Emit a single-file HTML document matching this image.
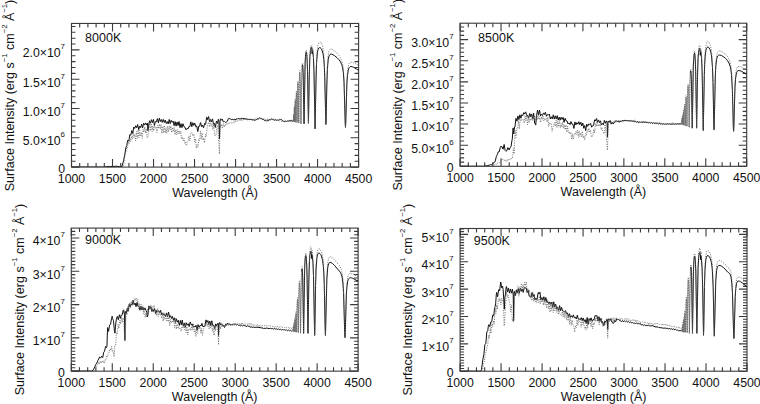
<!DOCTYPE html><html><head><meta charset="utf-8"><style>html,body{margin:0;padding:0;background:#fff;width:760px;height:404px;overflow:hidden;position:relative}</style></head><body><svg width="760" height="404" viewBox="0 0 760 404" style="position:absolute;left:0;top:0">
<g font-family='"Liberation Sans", sans-serif' font-size="12.3" fill="#111">
<rect x="71.5" y="23.45" width="287.10" height="143.65" fill="none" stroke="#3a3a3a" stroke-width="1.1"/>
<path d="M71.50 167.1v-8M71.50 23.45v8M79.70 167.1v-4M79.70 23.45v4M87.91 167.1v-4M87.91 23.45v4M96.11 167.1v-4M96.11 23.45v4M104.31 167.1v-4M104.31 23.45v4M112.51 167.1v-8M112.51 23.45v8M120.72 167.1v-4M120.72 23.45v4M128.92 167.1v-4M128.92 23.45v4M137.12 167.1v-4M137.12 23.45v4M145.33 167.1v-4M145.33 23.45v4M153.53 167.1v-8M153.53 23.45v8M161.73 167.1v-4M161.73 23.45v4M169.93 167.1v-4M169.93 23.45v4M178.14 167.1v-4M178.14 23.45v4M186.34 167.1v-4M186.34 23.45v4M194.54 167.1v-8M194.54 23.45v8M202.75 167.1v-4M202.75 23.45v4M210.95 167.1v-4M210.95 23.45v4M219.15 167.1v-4M219.15 23.45v4M227.35 167.1v-4M227.35 23.45v4M235.56 167.1v-8M235.56 23.45v8M243.76 167.1v-4M243.76 23.45v4M251.96 167.1v-4M251.96 23.45v4M260.17 167.1v-4M260.17 23.45v4M268.37 167.1v-4M268.37 23.45v4M276.57 167.1v-8M276.57 23.45v8M284.77 167.1v-4M284.77 23.45v4M292.98 167.1v-4M292.98 23.45v4M301.18 167.1v-4M301.18 23.45v4M309.38 167.1v-4M309.38 23.45v4M317.59 167.1v-8M317.59 23.45v8M325.79 167.1v-4M325.79 23.45v4M333.99 167.1v-4M333.99 23.45v4M342.19 167.1v-4M342.19 23.45v4M350.40 167.1v-4M350.40 23.45v4M358.60 167.1v-8M358.60 23.45v8M71.5 167.10h8M358.6 167.10h-8M71.5 161.24h4M358.6 161.24h-4M71.5 155.38h4M358.6 155.38h-4M71.5 149.52h4M358.6 149.52h-4M71.5 143.66h4M358.6 143.66h-4M71.5 137.80h8M358.6 137.80h-8M71.5 131.94h4M358.6 131.94h-4M71.5 126.08h4M358.6 126.08h-4M71.5 120.22h4M358.6 120.22h-4M71.5 114.36h4M358.6 114.36h-4M71.5 108.50h8M358.6 108.50h-8M71.5 102.64h4M358.6 102.64h-4M71.5 96.78h4M358.6 96.78h-4M71.5 90.92h4M358.6 90.92h-4M71.5 85.06h4M358.6 85.06h-4M71.5 79.20h8M358.6 79.20h-8M71.5 73.34h4M358.6 73.34h-4M71.5 67.48h4M358.6 67.48h-4M71.5 61.62h4M358.6 61.62h-4M71.5 55.76h4M358.6 55.76h-4M71.5 49.90h8M358.6 49.90h-8M71.5 44.04h4M358.6 44.04h-4M71.5 38.18h4M358.6 38.18h-4M71.5 32.32h4M358.6 32.32h-4M71.5 26.46h4M358.6 26.46h-4" stroke="#3a3a3a" stroke-width="1.1" fill="none"/>
<text x="71.50" y="183.20" text-anchor="middle">1000</text>
<text x="112.51" y="183.20" text-anchor="middle">1500</text>
<text x="153.53" y="183.20" text-anchor="middle">2000</text>
<text x="194.54" y="183.20" text-anchor="middle">2500</text>
<text x="235.56" y="183.20" text-anchor="middle">3000</text>
<text x="276.57" y="183.20" text-anchor="middle">3500</text>
<text x="317.59" y="183.20" text-anchor="middle">4000</text>
<text x="358.60" y="183.20" text-anchor="middle">4500</text>
<text x="65.00" y="172.80" text-anchor="end">0</text>
<text x="65.00" y="145.20" text-anchor="end">5.0×10<tspan font-size="7.9" dy="-8.0">6</tspan></text>
<text x="65.00" y="115.90" text-anchor="end">1.0×10<tspan font-size="7.9" dy="-8.0">7</tspan></text>
<text x="65.00" y="86.60" text-anchor="end">1.5×10<tspan font-size="7.9" dy="-8.0">7</tspan></text>
<text x="65.00" y="57.30" text-anchor="end">2.0×10<tspan font-size="7.9" dy="-8.0">7</tspan></text>
<text x="215.05" y="197.10" text-anchor="middle" font-size="12.5">Wavelength (Å)</text>
<text transform="translate(14.00,191.30) rotate(-90)" font-size="12.55">Surface Intensity (erg s<tspan font-size="7.7" dy="-7">−1</tspan><tspan dy="7"> cm</tspan><tspan font-size="7.7" dy="-7">−2</tspan><tspan dy="7"> Å</tspan><tspan font-size="7.7" dy="-7">−1</tspan><tspan dy="7">)</tspan></text>
<text x="85.1" y="42.2" font-size="12.5">8000K</text>
<rect x="460.1" y="23.2" width="286.60" height="143.10" fill="none" stroke="#3a3a3a" stroke-width="1.1"/>
<path d="M460.10 166.3v-8M460.10 23.2v8M468.29 166.3v-4M468.29 23.2v4M476.48 166.3v-4M476.48 23.2v4M484.67 166.3v-4M484.67 23.2v4M492.85 166.3v-4M492.85 23.2v4M501.04 166.3v-8M501.04 23.2v8M509.23 166.3v-4M509.23 23.2v4M517.42 166.3v-4M517.42 23.2v4M525.61 166.3v-4M525.61 23.2v4M533.80 166.3v-4M533.80 23.2v4M541.99 166.3v-8M541.99 23.2v8M550.17 166.3v-4M550.17 23.2v4M558.36 166.3v-4M558.36 23.2v4M566.55 166.3v-4M566.55 23.2v4M574.74 166.3v-4M574.74 23.2v4M582.93 166.3v-8M582.93 23.2v8M591.12 166.3v-4M591.12 23.2v4M599.31 166.3v-4M599.31 23.2v4M607.49 166.3v-4M607.49 23.2v4M615.68 166.3v-4M615.68 23.2v4M623.87 166.3v-8M623.87 23.2v8M632.06 166.3v-4M632.06 23.2v4M640.25 166.3v-4M640.25 23.2v4M648.44 166.3v-4M648.44 23.2v4M656.63 166.3v-4M656.63 23.2v4M664.81 166.3v-8M664.81 23.2v8M673.00 166.3v-4M673.00 23.2v4M681.19 166.3v-4M681.19 23.2v4M689.38 166.3v-4M689.38 23.2v4M697.57 166.3v-4M697.57 23.2v4M705.76 166.3v-8M705.76 23.2v8M713.95 166.3v-4M713.95 23.2v4M722.13 166.3v-4M722.13 23.2v4M730.32 166.3v-4M730.32 23.2v4M738.51 166.3v-4M738.51 23.2v4M746.70 166.3v-8M746.70 23.2v8M460.1 166.30h8M746.7 166.30h-8M460.1 162.08h4M746.7 162.08h-4M460.1 157.85h4M746.7 157.85h-4M460.1 153.63h4M746.7 153.63h-4M460.1 149.41h4M746.7 149.41h-4M460.1 145.19h8M746.7 145.19h-8M460.1 140.96h4M746.7 140.96h-4M460.1 136.74h4M746.7 136.74h-4M460.1 132.52h4M746.7 132.52h-4M460.1 128.29h4M746.7 128.29h-4M460.1 124.07h8M746.7 124.07h-8M460.1 119.85h4M746.7 119.85h-4M460.1 115.62h4M746.7 115.62h-4M460.1 111.40h4M746.7 111.40h-4M460.1 107.18h4M746.7 107.18h-4M460.1 102.96h8M746.7 102.96h-8M460.1 98.73h4M746.7 98.73h-4M460.1 94.51h4M746.7 94.51h-4M460.1 90.29h4M746.7 90.29h-4M460.1 86.06h4M746.7 86.06h-4M460.1 81.84h8M746.7 81.84h-8M460.1 77.62h4M746.7 77.62h-4M460.1 73.39h4M746.7 73.39h-4M460.1 69.17h4M746.7 69.17h-4M460.1 64.95h4M746.7 64.95h-4M460.1 60.73h8M746.7 60.73h-8M460.1 56.50h4M746.7 56.50h-4M460.1 52.28h4M746.7 52.28h-4M460.1 48.06h4M746.7 48.06h-4M460.1 43.83h4M746.7 43.83h-4M460.1 39.61h8M746.7 39.61h-8M460.1 35.39h4M746.7 35.39h-4M460.1 31.16h4M746.7 31.16h-4M460.1 26.94h4M746.7 26.94h-4" stroke="#3a3a3a" stroke-width="1.1" fill="none"/>
<text x="460.10" y="182.40" text-anchor="middle">1000</text>
<text x="501.04" y="182.40" text-anchor="middle">1500</text>
<text x="541.99" y="182.40" text-anchor="middle">2000</text>
<text x="582.93" y="182.40" text-anchor="middle">2500</text>
<text x="623.87" y="182.40" text-anchor="middle">3000</text>
<text x="664.81" y="182.40" text-anchor="middle">3500</text>
<text x="705.76" y="182.40" text-anchor="middle">4000</text>
<text x="746.70" y="182.40" text-anchor="middle">4500</text>
<text x="453.60" y="172.00" text-anchor="end">0</text>
<text x="453.60" y="152.59" text-anchor="end">5.0×10<tspan font-size="7.9" dy="-8.0">6</tspan></text>
<text x="453.60" y="131.47" text-anchor="end">1.0×10<tspan font-size="7.9" dy="-8.0">7</tspan></text>
<text x="453.60" y="110.36" text-anchor="end">1.5×10<tspan font-size="7.9" dy="-8.0">7</tspan></text>
<text x="453.60" y="89.24" text-anchor="end">2.0×10<tspan font-size="7.9" dy="-8.0">7</tspan></text>
<text x="453.60" y="68.13" text-anchor="end">2.5×10<tspan font-size="7.9" dy="-8.0">7</tspan></text>
<text x="453.60" y="47.01" text-anchor="end">3.0×10<tspan font-size="7.9" dy="-8.0">7</tspan></text>
<text x="603.40" y="196.30" text-anchor="middle" font-size="12.5">Wavelength (Å)</text>
<text transform="translate(402.30,190.50) rotate(-90)" font-size="12.55">Surface Intensity (erg s<tspan font-size="7.7" dy="-7">−1</tspan><tspan dy="7"> cm</tspan><tspan font-size="7.7" dy="-7">−2</tspan><tspan dy="7"> Å</tspan><tspan font-size="7.7" dy="-7">−1</tspan><tspan dy="7">)</tspan></text>
<text x="478.1" y="41.6" font-size="12.5">8500K</text>
<rect x="71.3" y="228.1" width="286.80" height="143.05" fill="none" stroke="#3a3a3a" stroke-width="1.1"/>
<path d="M71.30 371.15v-8M71.30 228.1v8M79.49 371.15v-4M79.49 228.1v4M87.69 371.15v-4M87.69 228.1v4M95.88 371.15v-4M95.88 228.1v4M104.08 371.15v-4M104.08 228.1v4M112.27 371.15v-8M112.27 228.1v8M120.47 371.15v-4M120.47 228.1v4M128.66 371.15v-4M128.66 228.1v4M136.85 371.15v-4M136.85 228.1v4M145.05 371.15v-4M145.05 228.1v4M153.24 371.15v-8M153.24 228.1v8M161.44 371.15v-4M161.44 228.1v4M169.63 371.15v-4M169.63 228.1v4M177.83 371.15v-4M177.83 228.1v4M186.02 371.15v-4M186.02 228.1v4M194.21 371.15v-8M194.21 228.1v8M202.41 371.15v-4M202.41 228.1v4M210.60 371.15v-4M210.60 228.1v4M218.80 371.15v-4M218.80 228.1v4M226.99 371.15v-4M226.99 228.1v4M235.19 371.15v-8M235.19 228.1v8M243.38 371.15v-4M243.38 228.1v4M251.57 371.15v-4M251.57 228.1v4M259.77 371.15v-4M259.77 228.1v4M267.96 371.15v-4M267.96 228.1v4M276.16 371.15v-8M276.16 228.1v8M284.35 371.15v-4M284.35 228.1v4M292.55 371.15v-4M292.55 228.1v4M300.74 371.15v-4M300.74 228.1v4M308.93 371.15v-4M308.93 228.1v4M317.13 371.15v-8M317.13 228.1v8M325.32 371.15v-4M325.32 228.1v4M333.52 371.15v-4M333.52 228.1v4M341.71 371.15v-4M341.71 228.1v4M349.91 371.15v-4M349.91 228.1v4M358.10 371.15v-8M358.10 228.1v8M71.3 371.15h8M358.1 371.15h-8M71.3 367.82h4M358.1 367.82h-4M71.3 364.50h4M358.1 364.50h-4M71.3 361.17h4M358.1 361.17h-4M71.3 357.84h4M358.1 357.84h-4M71.3 354.51h4M358.1 354.51h-4M71.3 351.19h4M358.1 351.19h-4M71.3 347.86h4M358.1 347.86h-4M71.3 344.53h4M358.1 344.53h-4M71.3 341.20h4M358.1 341.20h-4M71.3 337.88h8M358.1 337.88h-8M71.3 334.55h4M358.1 334.55h-4M71.3 331.22h4M358.1 331.22h-4M71.3 327.89h4M358.1 327.89h-4M71.3 324.56h4M358.1 324.56h-4M71.3 321.24h4M358.1 321.24h-4M71.3 317.91h4M358.1 317.91h-4M71.3 314.58h4M358.1 314.58h-4M71.3 311.25h4M358.1 311.25h-4M71.3 307.93h4M358.1 307.93h-4M71.3 304.60h8M358.1 304.60h-8M71.3 301.27h4M358.1 301.27h-4M71.3 297.94h4M358.1 297.94h-4M71.3 294.62h4M358.1 294.62h-4M71.3 291.29h4M358.1 291.29h-4M71.3 287.96h4M358.1 287.96h-4M71.3 284.63h4M358.1 284.63h-4M71.3 281.31h4M358.1 281.31h-4M71.3 277.98h4M358.1 277.98h-4M71.3 274.65h4M358.1 274.65h-4M71.3 271.32h8M358.1 271.32h-8M71.3 268.00h4M358.1 268.00h-4M71.3 264.67h4M358.1 264.67h-4M71.3 261.34h4M358.1 261.34h-4M71.3 258.01h4M358.1 258.01h-4M71.3 254.69h4M358.1 254.69h-4M71.3 251.36h4M358.1 251.36h-4M71.3 248.03h4M358.1 248.03h-4M71.3 244.70h4M358.1 244.70h-4M71.3 241.38h4M358.1 241.38h-4M71.3 238.05h8M358.1 238.05h-8M71.3 234.72h4M358.1 234.72h-4M71.3 231.39h4M358.1 231.39h-4" stroke="#3a3a3a" stroke-width="1.1" fill="none"/>
<text x="71.30" y="387.25" text-anchor="middle">1000</text>
<text x="112.27" y="387.25" text-anchor="middle">1500</text>
<text x="153.24" y="387.25" text-anchor="middle">2000</text>
<text x="194.21" y="387.25" text-anchor="middle">2500</text>
<text x="235.19" y="387.25" text-anchor="middle">3000</text>
<text x="276.16" y="387.25" text-anchor="middle">3500</text>
<text x="317.13" y="387.25" text-anchor="middle">4000</text>
<text x="358.10" y="387.25" text-anchor="middle">4500</text>
<text x="64.80" y="376.85" text-anchor="end">0</text>
<text x="64.80" y="345.27" text-anchor="end">1×10<tspan font-size="7.9" dy="-8.0">7</tspan></text>
<text x="64.80" y="312.00" text-anchor="end">2×10<tspan font-size="7.9" dy="-8.0">7</tspan></text>
<text x="64.80" y="278.72" text-anchor="end">3×10<tspan font-size="7.9" dy="-8.0">7</tspan></text>
<text x="64.80" y="245.45" text-anchor="end">4×10<tspan font-size="7.9" dy="-8.0">7</tspan></text>
<text x="214.70" y="401.15" text-anchor="middle" font-size="12.5">Wavelength (Å)</text>
<text transform="translate(23.70,395.35) rotate(-90)" font-size="12.55">Surface Intensity (erg s<tspan font-size="7.7" dy="-7">−1</tspan><tspan dy="7"> cm</tspan><tspan font-size="7.7" dy="-7">−2</tspan><tspan dy="7"> Å</tspan><tspan font-size="7.7" dy="-7">−1</tspan><tspan dy="7">)</tspan></text>
<text x="85.0" y="244.3" font-size="12.5">9000K</text>
<rect x="460.1" y="228.5" width="286.90" height="142.70" fill="none" stroke="#3a3a3a" stroke-width="1.1"/>
<path d="M460.10 371.2v-8M460.10 228.5v8M468.30 371.2v-4M468.30 228.5v4M476.49 371.2v-4M476.49 228.5v4M484.69 371.2v-4M484.69 228.5v4M492.89 371.2v-4M492.89 228.5v4M501.09 371.2v-8M501.09 228.5v8M509.28 371.2v-4M509.28 228.5v4M517.48 371.2v-4M517.48 228.5v4M525.68 371.2v-4M525.68 228.5v4M533.87 371.2v-4M533.87 228.5v4M542.07 371.2v-8M542.07 228.5v8M550.27 371.2v-4M550.27 228.5v4M558.47 371.2v-4M558.47 228.5v4M566.66 371.2v-4M566.66 228.5v4M574.86 371.2v-4M574.86 228.5v4M583.06 371.2v-8M583.06 228.5v8M591.25 371.2v-4M591.25 228.5v4M599.45 371.2v-4M599.45 228.5v4M607.65 371.2v-4M607.65 228.5v4M615.85 371.2v-4M615.85 228.5v4M624.04 371.2v-8M624.04 228.5v8M632.24 371.2v-4M632.24 228.5v4M640.44 371.2v-4M640.44 228.5v4M648.63 371.2v-4M648.63 228.5v4M656.83 371.2v-4M656.83 228.5v4M665.03 371.2v-8M665.03 228.5v8M673.23 371.2v-4M673.23 228.5v4M681.42 371.2v-4M681.42 228.5v4M689.62 371.2v-4M689.62 228.5v4M697.82 371.2v-4M697.82 228.5v4M706.01 371.2v-8M706.01 228.5v8M714.21 371.2v-4M714.21 228.5v4M722.41 371.2v-4M722.41 228.5v4M730.61 371.2v-4M730.61 228.5v4M738.80 371.2v-4M738.80 228.5v4M747.00 371.2v-8M747.00 228.5v8M460.1 371.20h8M747.0 371.20h-8M460.1 368.46h4M747.0 368.46h-4M460.1 365.73h4M747.0 365.73h-4M460.1 362.99h4M747.0 362.99h-4M460.1 360.26h4M747.0 360.26h-4M460.1 357.52h4M747.0 357.52h-4M460.1 354.78h4M747.0 354.78h-4M460.1 352.05h4M747.0 352.05h-4M460.1 349.31h4M747.0 349.31h-4M460.1 346.58h4M747.0 346.58h-4M460.1 343.84h8M747.0 343.84h-8M460.1 341.10h4M747.0 341.10h-4M460.1 338.37h4M747.0 338.37h-4M460.1 335.63h4M747.0 335.63h-4M460.1 332.90h4M747.0 332.90h-4M460.1 330.16h4M747.0 330.16h-4M460.1 327.42h4M747.0 327.42h-4M460.1 324.69h4M747.0 324.69h-4M460.1 321.95h4M747.0 321.95h-4M460.1 319.22h4M747.0 319.22h-4M460.1 316.48h8M747.0 316.48h-8M460.1 313.74h4M747.0 313.74h-4M460.1 311.01h4M747.0 311.01h-4M460.1 308.27h4M747.0 308.27h-4M460.1 305.54h4M747.0 305.54h-4M460.1 302.80h4M747.0 302.80h-4M460.1 300.06h4M747.0 300.06h-4M460.1 297.33h4M747.0 297.33h-4M460.1 294.59h4M747.0 294.59h-4M460.1 291.86h4M747.0 291.86h-4M460.1 289.12h8M747.0 289.12h-8M460.1 286.38h4M747.0 286.38h-4M460.1 283.65h4M747.0 283.65h-4M460.1 280.91h4M747.0 280.91h-4M460.1 278.18h4M747.0 278.18h-4M460.1 275.44h4M747.0 275.44h-4M460.1 272.70h4M747.0 272.70h-4M460.1 269.97h4M747.0 269.97h-4M460.1 267.23h4M747.0 267.23h-4M460.1 264.50h4M747.0 264.50h-4M460.1 261.76h8M747.0 261.76h-8M460.1 259.02h4M747.0 259.02h-4M460.1 256.29h4M747.0 256.29h-4M460.1 253.55h4M747.0 253.55h-4M460.1 250.82h4M747.0 250.82h-4M460.1 248.08h4M747.0 248.08h-4M460.1 245.34h4M747.0 245.34h-4M460.1 242.61h4M747.0 242.61h-4M460.1 239.87h4M747.0 239.87h-4M460.1 237.14h4M747.0 237.14h-4M460.1 234.40h8M747.0 234.40h-8M460.1 231.66h4M747.0 231.66h-4M460.1 228.93h4M747.0 228.93h-4" stroke="#3a3a3a" stroke-width="1.1" fill="none"/>
<text x="460.10" y="387.30" text-anchor="middle">1000</text>
<text x="501.09" y="387.30" text-anchor="middle">1500</text>
<text x="542.07" y="387.30" text-anchor="middle">2000</text>
<text x="583.06" y="387.30" text-anchor="middle">2500</text>
<text x="624.04" y="387.30" text-anchor="middle">3000</text>
<text x="665.03" y="387.30" text-anchor="middle">3500</text>
<text x="706.01" y="387.30" text-anchor="middle">4000</text>
<text x="747.00" y="387.30" text-anchor="middle">4500</text>
<text x="453.60" y="376.90" text-anchor="end">0</text>
<text x="453.60" y="351.24" text-anchor="end">1×10<tspan font-size="7.9" dy="-8.0">7</tspan></text>
<text x="453.60" y="323.88" text-anchor="end">2×10<tspan font-size="7.9" dy="-8.0">7</tspan></text>
<text x="453.60" y="296.52" text-anchor="end">3×10<tspan font-size="7.9" dy="-8.0">7</tspan></text>
<text x="453.60" y="269.16" text-anchor="end">4×10<tspan font-size="7.9" dy="-8.0">7</tspan></text>
<text x="453.60" y="241.80" text-anchor="end">5×10<tspan font-size="7.9" dy="-8.0">7</tspan></text>
<text x="603.55" y="401.20" text-anchor="middle" font-size="12.5">Wavelength (Å)</text>
<text transform="translate(412.40,395.40) rotate(-90)" font-size="12.55">Surface Intensity (erg s<tspan font-size="7.7" dy="-7">−1</tspan><tspan dy="7"> cm</tspan><tspan font-size="7.7" dy="-7">−2</tspan><tspan dy="7"> Å</tspan><tspan font-size="7.7" dy="-7">−1</tspan><tspan dy="7">)</tspan></text>
<text x="473.8" y="244.6" font-size="12.5">9500K</text>
</g>
<clipPath id="c0"><rect x="71.5" y="23.45" width="287.10" height="143.65"/></clipPath>
<polyline clip-path="url(#c0)" points="71.50,167.10 104.31,167.10 109.23,166.43 112.51,166.61 115.96,166.17 119.90,166.61 121.70,167.00 123.59,160.71 124.90,153.91 125.88,147.52 126.87,145.51 127.28,142.28 127.77,140.44 127.85,140.25 128.51,141.25 128.84,141.01 129.82,134.66 130.81,135.20 131.79,130.50 132.78,133.41 133.76,126.99 134.74,128.41 135.73,125.72 136.71,127.76 137.70,124.57 138.68,129.66 139.67,126.18 140.65,127.61 141.63,124.22 142.62,127.87 143.60,123.24 144.59,125.10 145.57,122.92 146.56,125.04 147.38,123.07 147.95,130.76 148.61,125.34 149.51,120.77 150.17,122.02 150.49,123.26 151.48,119.70 152.46,122.60 153.45,119.39 154.43,125.40 155.42,121.61 156.40,121.77 157.38,118.63 158.37,122.84 159.35,118.12 160.34,121.59 161.32,119.57 162.31,122.39 163.29,119.38 164.27,122.53 165.26,120.04 166.24,123.51 167.23,121.56 168.21,123.87 169.20,119.48 170.18,123.60 171.16,120.22 172.15,122.32 173.13,121.07 174.12,125.64 175.10,121.54 176.09,126.14 177.07,122.04 178.06,125.50 179.04,121.49 180.02,127.71 181.01,123.64 181.99,127.65 182.98,123.71 183.96,126.59 184.95,127.25 185.85,129.61 186.09,129.83 186.91,128.41 187.90,128.93 188.88,126.68 189.87,126.65 190.85,121.90 191.84,126.70 192.82,122.68 193.80,125.44 194.79,123.05 195.77,126.78 196.76,125.95 197.74,131.57 197.91,131.39 198.73,126.20 199.71,126.25 200.28,123.08 200.61,122.54 201.68,126.77 202.66,125.25 203.40,127.77 203.65,127.69 204.63,123.37 205.21,124.28 205.53,124.50 205.62,124.38 206.60,117.33 207.09,117.54 207.59,119.69 208.57,116.58 209.55,121.59 210.54,119.35 211.52,121.81 212.51,118.85 213.49,124.23 214.48,123.51 215.13,127.16 215.38,127.43 216.44,121.05 217.02,121.84 217.43,123.46 218.41,119.25 218.91,121.39 219.48,138.93 220.05,121.24 220.38,119.40 220.79,118.72 221.37,120.24 222.35,119.17 223.33,121.84 224.32,121.42 225.30,122.45 226.21,122.01 226.37,122.12 227.19,121.52 228.26,118.90 228.83,118.23 229.24,118.49 230.23,118.67 231.21,119.86 232.19,119.19 233.18,119.97 234.16,119.15 235.15,120.22 236.13,118.84 237.12,119.38 238.10,118.26 239.08,119.02 240.07,118.63 241.05,118.88 242.04,117.89 243.02,118.89 244.01,118.30 244.99,119.08 245.97,118.62 246.96,119.20 248.85,119.46 249.91,119.17 250.90,119.61 251.88,119.31 252.87,119.93 253.85,119.82 254.83,120.48 255.41,120.16 255.82,119.64 256.80,119.48 257.79,118.78 258.77,118.83 259.67,117.75 260.74,118.62 261.72,118.64 262.71,119.69 263.69,119.51 264.68,120.67 265.66,120.29 266.56,121.22 267.63,120.01 268.61,120.78 269.60,119.39 270.58,119.74 271.57,118.92 272.55,119.43 273.54,119.23 274.52,120.09 275.51,119.63 276.49,120.34 277.47,120.01 277.72,120.18 278.46,120.21 279.44,119.35 280.43,119.54 280.75,119.22 281.41,119.42 282.40,120.82 283.38,120.94 283.87,121.55 284.28,121.67 285.35,121.22 286.33,121.49 287.32,120.92 288.30,121.15 289.29,120.54 290.27,120.86 291.25,120.26 292.24,121.06 292.98,121.24" fill="none" stroke="#111" stroke-width="1.0" stroke-linejoin="round"/>
<polyline clip-path="url(#c0)" points="292.98,121.24 293.39,121.42 293.51,116.28 293.67,116.02 293.92,121.59 294.37,108.00 294.74,121.87 295.03,105.50 295.27,101.00 295.77,122.22 296.09,99.85 296.42,93.00 296.71,99.08 297.08,122.46 297.49,91.53 297.90,83.00 298.27,90.85 298.76,123.02 299.29,83.25 299.54,75.46 299.87,72.50 300.36,83.24 300.97,123.93 301.63,79.59 302.16,66.49" fill="none" stroke="#6a6a6a" stroke-width="0.6" stroke-linejoin="round"/>
<polyline clip-path="url(#c0)" points="302.16,66.49 302.41,65.06 302.57,65.09 302.70,65.61 303.15,72.84 304.05,123.72 305.12,63.61 305.45,57.25 305.86,53.30 306.27,52.00 306.72,54.27 307.17,60.63 307.54,71.66 308.44,123.28 309.30,74.23 309.92,56.36 310.45,50.37 311.11,47.53 311.47,47.21 311.76,47.83 312.13,53.87 312.42,50.35 312.54,50.19 312.71,50.72 313.40,57.58 313.94,70.07 315.08,128.84 316.03,79.85 316.52,63.79 317.34,52.94 317.91,49.95 318.69,48.16 319.43,47.63 320.25,47.76 321.11,48.54 321.89,49.86 323.04,53.68 323.82,59.38 324.31,66.31 324.72,76.27 325.87,124.48 326.12,120.20 326.81,86.04 327.39,69.42 328.21,59.71 328.78,56.86 329.48,55.16 329.97,54.55 330.59,54.19 331.24,54.10 332.06,54.28 334.28,55.47 337.03,57.67 339.04,59.77 340.51,61.88 341.78,64.62 342.52,67.16 343.38,72.90 344.04,82.30 345.23,123.50 345.48,127.40 345.72,123.54 346.87,84.05 347.44,75.65 348.22,70.39 348.76,68.61 349.37,67.43 350.15,66.65 350.97,66.50 352.16,66.71 353.72,67.36 358.60,70.33" fill="none" stroke="#111" stroke-width="1.0" stroke-linejoin="round"/>
<polyline clip-path="url(#c0)" points="71.50,167.10 116.62,167.10 123.59,166.48 124.82,156.20 124.98,155.28 125.80,153.25 126.62,147.71 127.44,148.06 128.26,142.64 128.51,142.64 129.08,143.77 129.90,137.54 130.72,141.81 131.54,136.18 132.37,139.17 133.19,132.27 134.01,137.49 134.83,134.37 135.65,140.85 136.47,131.44 137.29,138.56 138.11,129.78 138.93,137.74 139.75,130.46 140.57,135.82 141.39,132.51 142.21,138.28 143.03,128.95 143.85,132.34 144.67,126.83 145.49,133.12 145.98,129.00 146.23,128.51 146.31,128.65 147.13,137.66 147.87,136.32 147.95,136.52 148.69,133.15 149.02,127.51 149.59,123.49 150.41,130.87 151.23,123.50 152.05,131.44 152.87,125.88 153.69,130.92 154.51,125.32 155.33,128.20 156.15,126.80 156.97,132.49 157.79,125.27 158.61,128.54 159.43,123.97 160.25,129.21 161.08,124.26 161.90,133.54 162.72,126.35 163.54,132.83 164.36,125.37 165.18,132.99 166.00,127.77 166.82,133.39 167.64,126.11 168.46,131.88 169.28,126.08 170.10,130.12 170.92,125.98 171.74,132.57 172.56,127.43 173.38,131.69 174.20,127.29 175.02,134.82 175.84,129.51 176.66,134.90 177.48,129.61 178.30,133.94 179.12,130.61 179.94,134.04 180.76,131.14 181.58,138.89 182.40,137.06 183.22,140.90 184.04,138.29 184.86,143.33 185.68,141.91 186.09,144.66 186.50,145.70 187.32,141.73 188.14,140.86 188.96,135.75 189.79,141.01 190.61,134.72 191.10,132.44 191.43,132.29 192.25,132.91 193.07,136.11 193.89,133.87 194.71,141.98 195.53,138.57 196.35,148.30 197.09,144.83 197.25,145.96 197.99,147.26 198.81,139.08 199.55,140.50 199.63,140.31 200.45,130.95 201.27,139.41 202.09,132.93 202.91,140.19 203.73,138.09 203.98,140.44 204.55,142.91 205.37,134.25 205.86,136.73 206.11,136.99 206.19,136.83 207.01,128.95 207.75,124.32 208.57,122.29 209.47,126.93 210.29,118.88 211.11,126.08 211.93,123.77 212.75,129.31 213.57,124.27 214.39,133.59 215.13,135.73 215.21,135.17 215.95,134.88 216.03,134.62 216.85,126.72 217.67,125.54 219.48,154.03 220.14,124.69 220.96,127.59 221.78,124.21 222.60,127.77 223.42,123.64 224.24,127.22 225.06,124.55 225.88,124.90 226.70,123.28 227.52,124.40 228.34,123.13 229.16,124.08 229.98,122.67 230.80,123.64 231.62,122.89 232.44,123.65 233.26,122.39 234.08,122.92 234.90,120.97 235.72,121.74 236.54,120.51 237.36,121.21 238.18,119.78 239.00,120.65 239.82,119.61 240.64,120.73 241.46,119.05 242.28,120.58 243.10,118.94 243.92,119.98 244.74,118.90 245.56,120.15 246.38,119.41 247.21,120.53 248.03,119.06 248.85,120.25 249.67,119.53 250.49,120.31 251.31,118.78 252.13,120.52 252.95,118.97 253.77,120.12 254.59,118.78 255.41,120.31 256.23,118.43 257.05,119.56 257.87,118.78 258.69,119.26 259.51,117.65 260.33,119.06 261.15,117.97 261.97,119.38 262.79,118.16 263.61,119.01 264.43,118.50 265.25,120.05 266.07,119.28 266.89,119.56 267.71,119.06 268.53,119.94 269.35,118.66 270.17,120.03 270.99,118.92 271.81,120.25 272.63,119.61 273.45,120.30 274.27,119.75 275.09,120.81 275.92,119.45 276.74,120.56 277.56,119.84 278.38,120.86 279.20,120.63 280.02,121.22 280.84,120.67 281.66,121.41 282.48,120.56 283.30,121.64 284.12,120.93 284.94,121.33 285.76,120.63 286.58,121.59 287.40,120.54 288.22,121.49 289.04,120.69 289.86,121.88 290.68,120.76 291.50,122.07 292.32,120.58 293.06,121.49 293.39,121.30 293.59,114.00 293.92,121.58 294.37,106.00 294.74,121.87 295.03,103.76 295.27,99.00 295.77,122.22 296.09,98.18 296.42,91.00 296.71,97.59 297.08,122.44 297.49,89.83 297.90,81.00 298.27,89.32 298.72,123.04 299.29,81.57 299.54,73.51 299.87,70.50 300.36,81.70 300.97,123.93 301.67,76.15 302.00,66.75 302.45,63.00 302.70,63.65 302.90,65.80 303.23,73.89 304.05,123.72 304.99,65.56 305.53,54.23 305.90,51.06 306.27,50.00 306.59,51.37 306.92,54.61 307.41,65.55 308.44,123.28 309.67,59.63 310.37,48.93 310.86,46.06 311.39,45.00 311.68,45.32 311.84,46.21 312.13,51.71 312.42,47.99 312.58,47.83 312.83,48.93 313.28,53.30 313.65,59.78 314.18,78.06 315.08,128.84 316.07,75.57 316.72,56.25 317.22,49.82 317.87,45.53 318.78,42.98 319.35,42.29 319.96,42.01 320.54,42.08 321.28,42.98 321.97,44.38 322.55,46.12 323.41,50.67 324.02,57.07 324.80,75.53 325.87,124.47 326.16,118.15 326.98,76.66 327.68,60.41 328.21,54.94 328.95,51.34 329.40,50.23 329.93,49.49 330.59,49.08 331.33,49.03 332.84,49.64 334.85,51.10 337.15,53.26 339.08,55.53 340.27,57.35 341.21,59.30 342.11,61.77 342.73,64.47 343.51,70.84 344.08,80.35 345.19,121.88 345.48,127.40 345.72,123.29 346.87,81.20 347.44,72.22 348.22,66.57 348.76,64.65 349.37,63.36 350.15,62.49 350.97,62.22 352.16,62.29 353.72,62.79 358.60,65.34" fill="none" stroke="#666" stroke-width="0.85" stroke-dasharray="1.1 1.3"/>
<clipPath id="c1"><rect x="460.1" y="23.2" width="286.60" height="143.10"/></clipPath>
<polyline clip-path="url(#c1)" points="460.10,166.30 483.85,166.30 487.45,165.65 489.42,165.10 490.40,164.61 491.38,164.61 493.35,163.31 494.33,161.99 494.90,161.83 495.23,161.17 496.29,156.66 497.28,154.70 498.26,151.72 499.00,151.92 499.24,151.75 500.22,147.54 500.96,146.13 501.21,146.75 502.19,146.77 502.68,148.92 503.17,149.16 504.15,144.47 505.14,150.38 506.12,151.36 507.10,150.04 507.76,147.78 508.00,147.64 509.07,150.00 509.97,147.98 511.03,146.51 512.02,140.16 512.26,139.46 513.08,127.90 513.74,133.95 514.55,126.97 514.88,127.08 514.96,126.93 515.95,118.28 516.93,121.26 517.91,115.93 518.89,119.54 519.88,114.81 520.86,118.24 521.84,114.64 522.82,115.58 523.81,112.66 524.79,114.09 525.20,112.47 525.69,111.85 526.75,115.61 527.74,115.47 528.07,116.93 528.72,118.19 529.70,113.43 530.69,116.67 531.34,114.34 531.67,113.91 532.65,118.62 533.63,113.20 534.62,123.11 535.52,124.22 535.68,125.08 536.66,115.13 537.56,110.04 538.55,114.85 539.53,110.11 540.51,115.94 541.49,114.29 542.48,115.53 543.46,112.93 544.44,114.49 545.42,112.18 546.41,116.32 547.39,114.55 548.37,115.02 549.36,114.03 550.34,119.02 551.32,116.83 552.30,118.95 553.29,114.84 554.27,119.08 555.25,115.83 556.23,119.01 557.22,115.67 558.20,120.10 559.18,117.17 560.16,120.14 561.15,117.14 562.13,119.48 563.11,117.42 564.09,122.32 565.08,118.26 566.06,120.83 567.04,120.97 568.03,123.94 569.01,122.93 569.99,124.64 570.97,121.54 571.96,124.19 572.94,124.22 573.92,128.44 574.90,121.92 575.89,124.83 576.87,122.60 577.85,124.24 578.83,121.73 579.82,124.69 580.80,122.19 581.78,126.02 582.76,123.01 583.75,128.28 584.73,125.53 585.71,130.64 586.70,124.17 587.68,126.37 588.66,123.95 589.48,124.23 589.64,124.59 590.63,123.47 591.61,127.21 592.51,125.77 593.57,125.52 594.56,120.00 595.05,119.66 595.54,121.03 596.52,118.47 597.50,122.33 598.49,119.92 599.47,122.58 600.45,120.80 601.43,124.90 602.42,123.43 602.58,123.97 603.40,124.87 604.38,120.32 605.37,123.29 606.35,120.92 607.08,122.78 607.49,137.22 607.99,121.67 608.31,120.95 609.30,122.16 610.20,120.52 611.26,124.14 612.24,122.37 613.23,124.06 614.21,122.21 615.19,121.81 616.17,120.59 617.16,121.78 618.14,121.04 619.12,121.97 620.10,121.26 621.09,121.66 622.07,120.45 623.05,121.12 624.04,120.13 625.02,120.76 626.00,120.09 626.98,121.01 627.97,120.50 628.95,121.11 629.93,120.56 630.91,121.22 631.90,120.58 632.88,121.41 633.86,120.94 634.84,121.93 635.83,121.45 636.81,122.37 637.79,121.62 638.77,122.76 639.76,121.86 640.74,122.46 641.72,121.96 642.71,122.50 643.69,122.06 644.67,122.49 645.65,121.92 646.64,122.64 647.62,122.54 648.60,122.98 649.58,122.29 650.57,123.16 651.55,122.42 652.53,123.66 653.51,122.62 654.50,123.62 655.48,123.16 656.46,123.48 657.44,123.31 658.43,124.05 659.41,123.49 660.39,124.07 661.38,123.71 662.36,124.19 663.34,123.75 664.32,124.29 665.31,123.93 666.29,124.20 667.27,123.94 668.25,124.24 669.24,123.61 670.22,124.36 671.20,124.04 672.18,124.42 673.17,123.67 674.15,124.38 675.13,123.70 676.11,124.27 677.10,123.80 678.08,123.96 679.06,123.85 680.05,124.17 681.19,123.81" fill="none" stroke="#111" stroke-width="1.0" stroke-linejoin="round"/>
<polyline clip-path="url(#c1)" points="681.19,123.81 681.60,123.97 681.81,120.00 682.13,124.64 682.58,117.00 682.95,124.95 683.24,114.96 683.48,112.00 683.98,125.34 684.30,110.72 684.63,106.00 684.92,109.80 685.29,125.70 685.70,103.93 685.90,99.09 686.15,97.51 686.47,102.59 686.96,126.32 687.50,95.38 687.74,88.89 688.07,86.00 688.36,88.16 688.56,93.37 689.18,127.28 689.83,87.08 690.36,73.48" fill="none" stroke="#6a6a6a" stroke-width="0.6" stroke-linejoin="round"/>
<polyline clip-path="url(#c1)" points="690.36,73.48 690.65,71.17 690.77,71.01 690.89,71.36 691.39,79.10 692.25,128.20 693.31,66.54 694.05,54.98 694.54,53.01 694.87,54.61 695.32,60.93 695.69,71.83 696.63,128.18 697.49,76.41 698.06,58.49 698.55,52.25 699.21,48.96 699.62,48.50 699.94,49.27 700.31,55.33 700.60,51.64 700.72,51.44 700.88,51.93 701.58,58.70 702.11,71.25 703.26,130.56 704.32,75.48 704.69,64.27 705.18,56.11 705.92,50.47 706.41,48.67 706.99,47.52 707.72,46.90 708.34,47.14 709.20,48.03 710.02,49.55 710.88,52.27 711.53,55.90 712.47,67.42 713.00,82.51 713.78,123.08 714.07,129.78 715.34,75.94 715.87,65.68 716.61,59.33 717.14,57.22 717.75,55.96 718.70,55.17 719.80,55.01 721.56,55.57 723.81,56.95 725.66,58.43 727.37,60.43 728.97,63.04 730.12,66.10 730.98,70.22 731.59,75.53 732.41,90.68 733.31,126.06 733.60,131.40 733.84,127.43 734.95,87.97 735.52,79.13 736.26,73.97 736.75,72.31 737.37,71.20 738.06,70.65 739.04,70.50 741.21,71.10 746.04,73.99 746.70,74.01" fill="none" stroke="#111" stroke-width="1.0" stroke-linejoin="round"/>
<polyline clip-path="url(#c1)" points="460.10,166.30 487.12,166.30 492.85,165.88 493.92,164.98 494.74,164.94 495.56,164.16 496.38,164.43 497.19,163.06 498.01,163.34 498.83,162.40 499.65,162.74 500.47,160.93 501.29,160.59 502.68,159.38 502.93,159.57 503.75,159.18 504.56,161.15 505.38,159.96 506.20,161.64 507.02,159.56 507.84,160.97 508.66,159.32 509.48,159.85 510.30,158.32 511.11,159.12 511.93,158.02 512.51,158.22 513.33,148.00 513.49,147.98 513.57,148.30 514.14,153.95 514.96,132.88 515.21,130.82 516.03,137.60 516.76,129.00 516.85,128.47 517.58,129.25 517.67,129.00 518.48,120.72 519.30,128.92 520.12,119.39 520.94,120.97 521.76,119.00 522.58,120.42 523.32,119.86 524.22,123.20 525.04,115.37 525.85,121.05 526.67,113.51 527.49,124.78 528.31,116.96 529.13,122.82 529.95,118.68 530.77,120.74 531.59,115.43 532.41,120.54 533.22,116.74 534.04,119.77 534.86,115.59 535.68,121.53 536.50,116.21 537.32,119.77 538.14,113.83 538.96,119.53 539.77,116.49 540.59,122.37 541.41,116.89 542.23,119.33 543.05,116.12 543.87,121.00 544.69,118.13 545.51,119.71 546.33,118.36 547.14,122.23 547.96,116.96 548.78,126.60 549.60,122.39 550.42,123.70 551.16,123.30 552.06,131.34 552.39,130.28 552.88,126.76 553.70,126.26 554.51,122.48 555.33,126.37 556.15,120.21 556.97,127.72 557.79,120.99 558.61,126.74 559.43,120.70 560.25,128.06 561.07,123.48 561.88,127.12 562.70,121.87 563.52,128.56 564.34,124.68 565.16,129.80 565.98,124.92 566.80,132.14 567.62,126.14 568.43,132.99 569.25,131.86 570.07,134.12 570.89,132.17 571.71,138.88 572.53,134.11 573.35,139.52 574.17,133.81 574.99,134.85 575.80,131.63 576.62,134.32 577.36,130.02 578.26,137.39 579.08,130.79 579.90,136.34 580.72,132.89 581.54,136.75 582.36,131.30 583.17,138.03 583.99,135.64 584.57,139.50 584.81,140.00 585.63,133.50 586.45,135.24 587.27,129.72 588.09,131.85 588.25,130.53 588.91,128.15 589.73,132.40 590.54,129.88 591.36,137.31 591.94,136.52 592.18,135.22 592.92,135.40 593.00,135.18 593.82,129.02 594.64,133.09 595.46,123.53 596.28,126.38 597.09,119.33 597.91,126.50 598.73,124.22 599.55,125.80 600.37,123.77 601.19,129.77 602.01,127.50 602.83,131.63 603.56,132.36 603.81,133.89 604.46,132.25 605.04,124.31 605.20,124.72 607.49,150.23 608.31,122.27 608.56,121.39 609.38,122.45 610.11,120.55 611.02,123.66 611.83,121.42 612.65,123.47 613.47,121.82 614.29,122.32 615.11,120.27 615.93,122.72 616.75,121.58 617.57,121.68 618.30,120.27 619.20,122.58 620.02,120.53 620.84,121.81 621.66,121.17 622.48,121.34 623.30,120.69 624.12,121.78 624.94,120.53 625.75,121.43 626.57,120.29 627.39,121.35 628.21,120.78 629.77,120.51 630.67,121.33 631.49,120.35 632.31,121.29 633.12,120.38 633.94,121.58 634.76,119.89 635.58,121.79 636.32,120.91 637.22,121.69 638.04,120.78 638.86,122.11 639.68,121.59 640.49,122.45 641.31,121.47 642.87,121.71 643.77,122.22 644.59,121.16 645.41,122.44 646.23,121.86 647.86,121.90 648.68,122.49 649.50,121.86 650.32,122.72 651.14,122.22 651.96,122.97 652.78,121.94 653.60,122.85 654.41,122.17 655.23,123.43 656.05,122.27 656.87,123.67 657.69,122.96 658.51,123.54 659.33,122.10 660.15,123.67 660.97,122.89 661.78,123.87 662.60,122.89 663.42,124.07 664.24,123.28 665.06,123.76 665.88,123.17 666.70,124.31 667.52,123.18 668.34,123.99 669.97,123.38 671.61,123.86 672.43,122.63 673.25,124.27 674.07,123.62 674.89,124.04 675.71,123.44 676.52,124.36 677.34,123.22 678.16,124.21 678.98,123.55 679.80,123.98 680.62,123.38 681.36,123.94 681.60,123.79 681.81,118.00 682.13,124.63 682.54,115.00 682.95,124.95 683.24,113.23 683.48,110.00 683.98,125.34 684.30,109.05 684.63,104.00 684.92,108.30 685.29,125.69 685.70,102.24 686.10,95.50 686.47,101.06 686.92,126.32 687.54,92.18 687.78,86.26 688.07,84.00 688.36,86.34 688.56,91.83 689.18,127.28 689.91,82.06 690.28,72.66 690.73,69.00 691.14,71.84 691.47,80.36 692.25,128.20 693.23,67.29 693.80,55.36 694.17,52.15 694.54,51.00 694.83,52.27 695.15,56.02 695.60,67.00 696.63,128.18 697.86,60.64 698.55,49.35 699.04,46.32 699.57,45.21 699.82,45.45 700.03,46.47 700.31,52.12 700.60,48.20 700.76,48.00 701.01,49.09 701.46,53.50 701.83,60.09 702.36,78.77 703.26,130.56 704.24,75.97 704.86,56.82 705.31,50.20 705.92,45.45 706.70,42.59 707.19,41.66 707.72,41.10 708.46,41.53 709.24,42.53 710.55,45.83 711.45,50.48 712.10,57.10 712.92,76.32 714.03,129.74 714.31,123.09 715.13,79.47 715.87,61.93 716.44,56.29 717.18,53.00 718.08,51.51 718.90,51.00 719.76,50.90 721.40,51.41 723.49,52.68 725.66,54.47 727.29,56.32 728.52,58.18 729.46,60.18 730.20,62.51 730.77,65.23 731.59,72.13 732.21,82.68 733.31,125.73 733.60,131.40 733.88,125.79 734.95,85.21 735.52,75.78 736.26,70.25 736.79,68.35 737.41,67.19 738.14,66.58 739.17,66.40 740.35,66.61 741.91,67.28 746.70,70.24" fill="none" stroke="#666" stroke-width="0.85" stroke-dasharray="1.1 1.3"/>
<clipPath id="c2"><rect x="71.3" y="228.1" width="286.80" height="143.05"/></clipPath>
<polyline clip-path="url(#c2)" points="71.30,371.15 91.79,371.15 93.26,369.84 94.82,366.91 95.80,364.43 96.78,363.15 97.77,360.63 98.75,359.03 99.57,357.01 100.72,357.89 101.70,356.22 102.60,357.52 102.77,357.43 103.67,352.45 104.57,351.18 105.55,346.53 105.63,346.39 106.54,347.51 106.95,345.93 107.60,327.53 108.58,331.35 109.57,325.05 110.47,324.65 110.55,324.43 111.53,318.51 112.19,316.25 112.52,318.44 113.50,320.69 114.40,330.39 114.98,333.13 115.47,326.22 116.37,319.13 117.35,316.43 118.34,319.76 119.40,314.78 120.38,318.31 121.29,314.95 121.37,314.85 121.69,315.29 122.27,314.64 123.25,310.04 123.33,309.88 123.74,310.27 124.24,314.14 124.32,314.45 124.56,314.33 124.89,339.94 125.22,311.54 125.30,311.39 126.20,313.37 127.27,308.32 128.17,311.30 129.15,304.41 129.23,304.26 130.22,306.90 131.12,303.75 132.10,305.01 132.18,304.87 133.17,300.46 134.07,304.62 134.15,304.73 135.13,303.05 136.03,306.71 137.10,302.29 138.00,306.43 138.08,306.60 138.98,306.08 139.97,310.23 140.95,306.56 141.93,309.98 142.92,307.18 143.98,310.12 144.97,307.85 145.95,310.41 146.85,312.12 147.34,316.99 147.92,315.17 148.90,305.85 149.56,307.27 149.88,308.63 150.78,306.56 150.87,306.67 151.85,311.46 152.75,309.55 153.24,310.47 153.82,310.94 154.72,308.93 155.78,313.66 156.77,310.52 157.67,311.48 158.73,310.68 159.72,312.55 160.62,310.33 161.68,314.94 162.67,312.98 163.65,314.90 164.63,314.28 165.53,316.73 166.52,312.88 167.58,316.61 168.57,312.02 169.55,317.35 170.53,315.64 171.52,318.56 172.42,316.38 173.48,320.28 174.38,317.80 175.45,322.42 176.35,318.79 177.42,322.19 178.32,320.27 179.30,325.39 180.37,320.47 181.27,324.80 182.25,320.10 183.23,326.24 184.30,322.98 185.20,326.97 186.27,322.76 187.17,324.93 188.23,323.75 189.22,326.62 190.20,321.98 191.18,324.78 192.17,323.87 193.15,326.77 194.13,326.57 195.12,327.03 196.02,325.26 197.08,330.03 198.07,324.60 199.05,327.29 200.03,325.42 201.02,325.92 201.92,323.37 202.98,326.84 203.97,326.22 204.87,326.56 205.85,320.22 206.10,319.87 206.92,322.24 207.82,320.56 207.90,320.67 208.80,324.48 209.87,321.07 210.77,325.65 211.83,320.82 212.73,325.45 212.82,325.64 213.72,325.10 214.45,328.24 214.70,328.61 215.68,323.89 216.67,325.90 217.73,323.15 218.31,323.77 218.55,335.53 218.96,324.23 219.70,322.45 220.60,324.78 221.67,323.68 222.57,325.50 223.55,325.29 223.96,326.57 224.53,327.44 225.52,324.20 226.50,325.12 227.48,323.02 228.47,324.24 229.53,323.71 230.51,325.12 231.50,324.58 232.48,325.09 233.38,323.98 234.45,324.74 235.43,324.10 236.33,324.96 237.40,324.53 238.30,325.43 239.36,325.12 240.27,325.93 241.25,325.10 242.31,326.00 243.22,325.32 244.28,325.72 245.18,325.32 246.25,326.79 247.23,325.71 248.13,326.28 249.20,326.21 250.18,327.39 251.08,326.66 252.07,327.52 253.13,326.85 254.03,327.48 255.10,327.15 256.00,327.65 257.06,326.90 257.97,327.66 258.95,327.25 260.01,327.80 260.92,327.49 261.90,328.27 262.96,327.75 263.95,328.84 264.85,328.09 265.91,328.56 266.90,327.81 267.88,328.47 269.77,328.49 270.75,328.25 271.81,328.78 272.72,328.47 273.70,329.14 274.76,328.46 275.75,329.19 276.65,328.80 277.63,329.45 278.62,328.99 279.68,329.58 280.58,329.30 281.57,330.04 282.63,329.49 283.53,329.90 284.60,329.67 285.58,330.23 286.56,329.89 287.47,330.70 288.45,330.03 289.43,330.76 290.42,330.33 291.40,331.12 292.38,330.79 292.55,330.91" fill="none" stroke="#111" stroke-width="1.0" stroke-linejoin="round"/>
<polyline clip-path="url(#c2)" points="292.55,330.91 292.96,331.32 293.08,329.13 293.24,329.00 293.49,331.55 293.94,325.00 294.31,331.77 294.84,320.00 295.04,322.02 295.33,332.05 295.70,317.47 296.07,314.00 296.64,332.27 297.09,306.89 297.50,300.00 297.83,305.29 298.32,332.70 298.86,295.27 299.10,287.05 299.43,283.00 299.67,285.22 299.92,292.57 300.54,333.30 301.19,286.19 301.72,270.95" fill="none" stroke="#6a6a6a" stroke-width="0.6" stroke-linejoin="round"/>
<polyline clip-path="url(#c2)" points="301.72,270.95 301.97,269.11 302.13,269.11 302.26,269.70 302.71,277.67 303.61,333.30 304.67,267.94 305.00,261.07 305.41,256.84 305.82,255.50 306.27,258.04 306.72,265.03 307.09,277.08 307.99,333.28 308.85,279.91 309.47,260.65 309.96,254.59 310.57,251.59 310.98,251.34 311.31,252.25 311.68,258.58 311.97,254.92 312.09,254.75 312.25,255.31 312.95,262.45 313.48,275.35 314.63,335.47 314.88,328.80 315.57,285.49 316.06,269.10 316.88,258.09 317.46,255.10 318.19,253.42 318.89,253.00 319.75,253.34 320.65,254.40 321.43,255.95 322.58,260.21 323.36,266.36 323.85,273.75 324.26,284.32 325.16,328.84 325.45,335.47 326.88,278.50 327.70,267.91 328.23,265.04 328.93,263.23 329.79,262.40 330.85,262.44 332.41,263.41 334.42,265.30 340.28,272.20 341.34,274.38 342.04,276.95 342.90,282.88 343.56,292.43 344.70,332.52 344.99,337.70 345.28,332.57 346.34,295.39 346.91,286.70 347.69,281.36 348.18,279.72 348.76,278.63 349.46,277.97 350.32,277.71 351.38,277.81 352.77,278.29 356.87,280.55 358.10,280.50" fill="none" stroke="#111" stroke-width="1.0" stroke-linejoin="round"/>
<polyline clip-path="url(#c2)" points="71.30,371.15 95.06,371.15 96.70,365.80 97.60,365.08 98.42,362.17 99.24,364.07 100.06,361.31 100.88,363.25 101.70,361.00 102.52,362.58 103.34,360.60 104.16,363.33 104.98,359.84 105.80,360.31 106.62,355.56 107.44,357.14 108.26,353.48 109.08,351.93 109.90,349.25 110.22,348.97 110.71,350.40 111.53,346.47 112.35,351.85 113.09,350.46 113.17,350.58 113.99,356.75 114.32,354.22 114.81,345.48 115.14,345.14 115.55,345.30 115.63,344.94 116.37,333.44 116.45,332.82 117.19,334.23 117.27,334.03 118.09,324.28 118.91,328.42 119.73,320.15 120.55,324.04 121.37,316.60 122.19,322.57 123.01,317.67 123.74,321.40 124.89,341.74 126.20,311.77 126.28,311.50 127.10,315.02 127.92,305.98 128.74,310.52 129.56,302.67 130.38,307.93 131.20,301.16 132.02,306.02 132.84,299.57 133.66,303.19 134.48,298.64 135.30,300.49 136.12,298.03 136.94,301.05 137.67,299.15 137.76,299.31 138.58,308.84 139.39,303.36 140.21,310.55 141.03,304.08 141.85,309.40 142.67,305.77 143.49,313.67 144.31,308.22 145.13,317.46 145.95,312.73 146.77,316.66 147.59,308.87 148.41,314.00 149.23,306.10 150.05,309.81 150.87,305.46 151.69,311.82 152.51,306.66 153.32,312.72 154.14,305.22 154.96,313.16 155.78,310.44 156.60,315.92 157.42,308.34 158.24,316.45 159.06,311.24 159.88,314.82 160.70,312.25 161.52,318.34 162.34,312.85 163.16,321.15 163.98,312.70 164.80,319.59 165.62,315.21 166.44,320.83 167.26,314.72 168.07,321.92 168.89,317.06 169.71,325.85 170.53,319.55 171.35,323.13 172.17,320.58 172.99,322.62 173.73,319.93 174.63,328.03 175.45,318.56 176.27,329.18 177.09,324.12 177.91,328.44 178.73,326.52 179.55,329.44 180.37,328.43 181.19,331.35 182.00,327.04 182.82,328.10 183.64,325.07 184.46,329.82 185.28,322.83 186.10,332.53 186.92,324.16 187.74,334.88 188.56,329.20 189.38,329.62 190.20,328.06 191.02,330.68 191.84,325.39 192.66,330.12 193.48,323.55 194.30,332.71 195.12,328.96 195.94,336.61 196.75,326.94 197.57,333.31 198.39,327.84 199.21,328.61 200.03,326.95 200.85,333.26 201.67,328.51 202.49,335.33 203.31,328.99 204.13,328.24 204.95,324.43 205.77,326.03 206.59,321.93 207.41,326.43 208.23,321.77 209.05,328.88 209.87,323.88 210.68,327.98 211.50,322.51 212.32,331.16 213.14,328.00 213.96,335.29 214.78,327.20 215.60,330.92 216.42,324.97 217.16,324.75 218.06,335.35 218.55,344.89 219.21,326.20 219.70,323.75 220.52,329.18 221.34,324.97 222.16,327.15 222.98,325.51 223.80,326.79 224.62,325.17 225.43,326.69 226.25,324.47 227.07,325.58 227.89,324.08 228.71,325.76 229.53,324.10 230.35,325.47 231.17,324.54 231.99,324.87 232.81,323.52 233.63,324.96 234.45,323.41 235.27,325.03 236.09,323.33 236.91,324.27 237.73,323.58 238.55,324.17 239.36,323.35 240.18,324.75 241.00,322.91 241.82,324.60 242.64,323.33 243.46,324.53 244.28,323.85 245.10,324.73 245.92,323.83 246.74,324.57 247.56,324.19 248.38,324.93 249.20,323.28 250.02,325.29 250.84,323.58 251.66,325.36 252.48,323.86 253.30,325.41 254.11,324.72 254.93,325.42 255.75,324.75 256.57,325.90 257.39,324.37 258.21,326.52 259.03,325.01 259.85,326.20 260.67,325.20 261.49,326.41 262.31,325.25 263.13,325.87 263.95,325.55 265.59,325.66 266.41,325.90 267.23,325.82 268.04,326.64 268.86,325.66 269.68,326.54 270.50,325.85 271.32,326.64 272.14,326.24 272.96,327.20 273.78,326.52 274.60,327.00 275.42,326.29 276.24,327.28 277.06,326.06 277.88,327.18 278.70,326.82 279.52,327.97 280.34,326.69 281.16,327.53 281.98,327.30 283.61,327.26 284.43,327.48 285.17,327.27 286.07,328.06 286.89,327.45 287.71,328.25 288.53,327.43 289.35,328.50 290.17,327.82 290.99,329.23 291.81,328.11 292.63,329.64 292.96,329.18 293.16,326.50 293.49,331.54 293.94,322.50 294.31,331.77 294.59,320.63 294.84,317.50 295.33,332.05 295.70,315.22 296.03,311.50 296.27,314.88 296.64,332.26 297.09,304.65 297.50,297.50 297.83,303.36 298.32,332.69 298.86,293.16 299.10,284.60 299.43,280.50 299.67,282.89 299.92,290.64 300.54,333.30 301.27,280.27 301.64,269.73 302.05,266.50 302.50,270.38 302.83,280.33 303.61,333.30 304.55,269.77 305.08,257.48 305.45,254.09 305.82,253.00 306.15,254.43 306.48,257.92 306.97,269.84 307.99,333.27 309.18,263.98 309.88,251.22 310.41,247.53 310.86,246.80 311.19,247.25 311.39,248.47 311.68,254.51 311.97,250.65 312.05,250.45 312.13,250.56 312.38,251.86 313.20,263.64 313.73,282.92 314.63,335.46 315.61,280.98 316.23,262.24 316.68,255.98 317.29,251.73 318.07,249.50 318.56,248.97 319.14,248.80 319.87,249.12 320.65,250.00 321.92,252.94 322.82,257.36 323.48,263.76 324.30,282.62 325.40,335.44 325.69,328.86 326.51,285.52 327.17,269.18 327.66,263.50 328.31,259.68 329.22,257.46 329.79,256.90 330.40,256.71 331.88,257.38 333.84,259.10 339.74,266.19 341.22,269.03 342.16,272.86 342.98,279.57 343.60,289.89 344.70,332.13 344.99,337.70 345.28,332.19 346.34,292.28 346.91,282.97 347.65,277.49 348.14,275.68 348.76,274.44 349.58,273.70 350.52,273.40 351.71,273.51 353.27,274.05 358.10,276.65" fill="none" stroke="#666" stroke-width="0.85" stroke-dasharray="1.1 1.3"/>
<clipPath id="c3"><rect x="460.1" y="228.5" width="286.90" height="142.70"/></clipPath>
<polyline clip-path="url(#c3)" points="460.10,371.20 479.36,371.20 480.59,370.91 481.49,369.79 482.89,359.26 483.87,354.62 484.86,344.69 485.02,344.30 485.84,343.50 486.82,332.04 487.81,330.44 488.30,326.21 488.79,324.71 489.77,326.60 490.76,322.00 491.74,321.49 492.72,315.13 493.71,315.82 494.69,307.61 495.18,306.40 495.68,303.21 496.33,294.38 496.66,292.41 497.64,296.68 498.63,289.73 499.61,290.81 500.68,282.03 500.84,282.02 501.58,287.72 502.56,286.12 503.13,289.64 504.36,309.19 504.86,297.31 505.51,293.94 506.17,286.98 506.50,286.54 507.48,291.97 508.46,287.94 509.45,293.11 510.43,288.95 511.41,293.17 512.40,289.16 513.22,295.05 513.63,320.77 514.04,293.03 514.37,291.40 515.35,295.73 516.33,289.81 517.32,292.96 518.30,288.87 519.28,293.29 520.27,288.20 521.25,291.30 522.23,288.95 523.22,292.39 524.20,287.80 524.78,287.48 525.19,288.09 526.17,287.81 527.15,292.56 528.14,290.38 529.20,296.16 530.10,296.36 531.09,297.05 532.07,292.41 533.05,296.59 534.04,294.47 535.02,300.10 536.01,298.02 536.17,298.96 536.99,299.75 538.05,293.27 538.38,292.52 538.96,293.94 539.94,292.20 540.92,299.77 541.91,297.56 542.89,300.18 543.87,296.73 544.86,301.44 545.84,297.53 546.83,302.24 547.81,301.42 548.79,303.74 549.78,301.91 550.76,304.34 551.74,302.19 552.73,307.23 553.71,301.80 554.70,306.74 555.68,304.28 556.66,308.72 557.65,307.36 558.63,310.48 559.61,305.62 560.60,310.67 561.58,307.25 562.56,310.99 563.55,311.13 564.53,311.88 565.52,310.67 566.50,313.84 567.48,312.95 568.47,316.56 569.45,313.69 570.43,317.25 571.42,315.70 572.40,317.42 573.38,314.84 574.37,317.86 575.35,317.19 576.34,319.02 577.32,315.18 578.30,319.16 579.29,318.97 580.27,319.83 581.25,317.67 582.24,320.67 583.22,317.98 584.20,321.51 585.19,319.64 586.17,323.48 587.16,317.47 588.14,324.28 589.12,318.54 589.70,319.28 590.11,320.64 591.09,317.90 592.16,321.27 592.65,320.87 593.06,319.52 594.04,319.93 595.02,315.70 595.68,315.47 596.01,316.23 596.99,315.58 597.98,321.14 598.96,316.67 599.94,321.49 600.93,318.36 601.91,322.79 602.40,321.69 602.89,322.04 603.55,325.66 603.88,325.70 604.86,320.89 605.85,322.26 606.91,319.21 607.40,319.93 607.73,329.53 608.14,320.22 608.80,318.73 609.53,319.65 609.78,320.40 610.76,318.73 611.75,321.97 612.73,322.80 613.06,323.30 613.71,323.08 614.70,320.47 615.68,321.84 616.67,318.83 617.65,319.65 618.63,319.33 619.62,320.67 620.60,320.72 621.58,321.85 622.57,320.50 623.55,321.87 624.53,320.71 625.52,321.69 626.50,321.16 627.49,322.08 628.47,321.57 629.45,322.52 630.44,321.83 631.42,322.94 632.40,322.53 633.39,323.28 634.37,323.06 635.35,323.51 636.34,322.88 637.32,323.93 638.31,323.30 639.29,323.93 640.27,323.40 641.26,325.02 642.24,324.55 643.22,325.43 644.21,324.67 645.19,325.53 646.18,325.30 647.16,325.73 648.14,324.93 649.13,325.81 650.11,325.73 651.09,326.06 652.08,325.36 653.06,326.20 654.04,325.96 655.03,327.14 656.01,326.62 657.00,327.25 657.98,326.76 658.96,327.76 659.95,327.36 660.93,328.03 661.91,327.61 662.90,328.19 665.85,328.07 666.83,328.55 667.82,328.38 668.80,328.88 669.78,328.53 670.77,329.21 671.75,328.70 672.73,329.52 673.72,328.78 674.70,329.90 675.68,329.37 676.67,330.20 677.65,330.06 678.64,330.74 681.42,330.64" fill="none" stroke="#111" stroke-width="1.0" stroke-linejoin="round"/>
<polyline clip-path="url(#c3)" points="681.42,330.64 681.83,330.88 681.96,329.66 682.16,329.53 682.37,331.97 682.82,325.00 683.19,332.13 683.51,321.97 683.76,320.01 684.21,332.32 684.58,316.82 684.74,313.88 684.95,313.02 685.52,332.43 685.97,306.04 686.38,299.00 686.71,304.15 687.20,332.71 687.73,292.69 687.98,283.67 688.27,280.00 688.55,282.57 688.80,290.45 689.42,333.30 690.07,284.62 690.60,269.27" fill="none" stroke="#6a6a6a" stroke-width="0.6" stroke-linejoin="round"/>
<polyline clip-path="url(#c3)" points="690.60,269.27 690.89,267.08 691.14,267.87 691.59,276.34 692.49,333.30 693.43,271.56 693.92,260.43 694.25,257.30 694.62,256.02 694.95,257.01 695.28,259.96 695.81,271.29 696.87,333.28 698.06,268.06 698.72,256.84 699.17,253.80 699.70,252.45 699.99,252.60 700.24,253.63 700.56,259.65 700.85,256.09 700.93,255.92 701.01,256.04 701.22,257.00 702.04,267.46 702.57,284.45 703.51,335.25 703.76,328.81 704.46,286.65 704.95,270.71 705.77,260.12 706.34,257.31 707.04,255.87 707.74,255.50 708.60,255.86 709.50,256.93 710.32,258.56 711.47,262.79 712.24,268.83 713.15,286.36 714.05,329.69 714.33,336.15 715.77,280.87 716.59,270.64 717.12,267.91 717.82,266.20 718.64,265.48 719.91,265.47 721.42,266.15 723.35,267.54 725.89,269.91 727.90,272.30 728.80,272.77 729.54,273.47 730.36,274.90 731.02,277.03 731.84,283.40 732.45,292.85 733.60,333.30 733.88,338.48 734.13,334.67 735.24,296.72 735.81,288.36 736.55,283.62 737.08,282.09 737.70,281.27 738.43,281.00 739.50,281.21 740.69,281.79 742.25,282.88 747.00,287.01" fill="none" stroke="#111" stroke-width="1.0" stroke-linejoin="round"/>
<polyline clip-path="url(#c3)" points="460.10,371.20 481.82,371.20 482.64,369.11 483.63,362.34 484.04,361.44 484.45,361.38 485.27,353.23 485.68,352.41 486.08,352.05 486.90,347.34 487.72,344.90 488.54,335.14 489.36,338.32 490.18,327.79 491.00,333.50 491.82,322.61 492.64,326.78 493.46,320.66 494.28,324.28 495.10,308.00 495.92,313.43 496.74,304.69 497.56,309.30 498.38,298.90 499.20,301.20 499.77,298.41 500.02,298.27 500.84,304.79 501.66,298.12 502.48,301.00 503.13,300.05 504.20,325.97 505.76,302.91 506.00,297.01 506.58,291.67 507.40,297.18 508.22,295.11 509.04,301.31 509.86,302.71 510.68,311.83 511.50,304.95 512.32,321.04 513.14,317.99 513.55,322.27 513.96,315.68 514.77,293.11 515.59,295.37 516.41,291.94 517.23,294.09 518.05,285.81 518.87,296.29 519.69,287.46 520.51,290.76 521.33,284.42 522.15,289.49 522.97,284.48 523.79,287.80 524.61,282.25 524.78,282.42 525.43,285.76 526.25,282.03 527.07,291.40 527.89,288.24 528.71,295.05 529.53,290.13 530.35,298.33 531.17,295.04 531.99,300.74 532.81,291.95 533.63,301.16 534.45,295.59 535.27,301.73 536.09,297.89 536.91,303.08 537.73,300.37 538.55,302.25 539.37,296.11 540.19,303.90 541.01,298.86 541.83,301.94 542.65,299.46 543.46,305.15 544.28,297.72 545.10,305.10 545.92,302.49 546.74,308.27 547.56,299.81 548.38,308.91 549.20,302.76 550.02,312.20 550.84,303.35 551.66,310.66 552.48,302.04 553.30,312.46 554.12,305.62 554.94,310.66 555.76,305.82 556.58,312.32 557.40,306.71 558.22,314.56 559.04,307.87 559.86,314.08 560.68,314.57 561.50,315.50 562.32,311.49 563.14,317.04 563.96,311.58 564.78,317.76 565.60,310.50 566.42,319.72 567.24,314.58 568.06,320.96 568.88,314.74 569.70,324.63 570.52,316.73 571.34,325.28 572.15,320.13 572.97,325.36 573.79,325.98 574.61,332.21 575.43,326.05 576.25,327.86 577.07,319.77 577.89,325.33 578.71,319.38 579.53,322.30 580.35,322.17 581.17,327.19 581.99,319.96 582.81,324.87 583.63,321.78 584.45,328.22 585.27,326.88 586.09,330.05 586.91,321.91 587.73,328.50 588.55,319.11 589.37,323.31 589.61,322.15 590.19,321.25 591.01,326.80 591.83,321.20 592.65,329.01 593.47,322.91 594.29,324.68 595.11,317.90 595.93,321.51 596.75,315.37 597.57,320.05 598.39,317.93 599.21,324.86 600.03,319.20 600.84,321.68 601.66,318.64 602.48,326.23 603.30,323.54 603.55,324.89 604.12,326.03 604.94,322.42 605.76,324.63 606.58,318.07 606.83,318.63 607.73,338.22 608.30,319.51 609.04,321.80 609.86,320.88 610.68,321.03 611.50,318.18 612.32,323.62 613.14,317.55 613.96,321.43 614.78,318.31 615.60,319.90 616.42,317.45 617.24,319.92 618.06,318.97 618.88,320.05 619.70,318.41 620.52,319.89 621.34,318.32 622.16,319.63 622.98,318.85 623.80,319.59 624.62,318.81 625.44,319.78 626.26,318.37 627.08,320.37 627.90,318.69 628.72,320.57 629.53,319.49 630.35,320.79 631.17,319.60 631.99,320.46 632.81,319.30 633.63,320.70 634.45,319.83 635.27,321.60 636.09,319.86 636.91,321.96 637.73,320.70 638.55,322.17 639.37,321.47 640.19,322.62 641.01,321.91 641.83,322.59 642.65,321.83 643.47,322.68 644.29,322.09 645.11,323.23 645.93,322.46 646.75,323.62 647.57,322.89 648.39,324.01 649.21,322.52 650.03,323.72 650.85,322.75 651.67,323.86 652.49,323.38 653.31,324.58 654.13,323.45 654.95,324.46 655.77,323.15 656.59,324.31 657.41,323.56 658.22,323.97 659.04,323.91 659.86,324.80 660.68,324.53 661.50,325.01 662.32,323.72 663.14,325.28 663.96,324.37 664.78,325.51 665.60,324.30 666.42,325.64 667.24,324.31 668.06,325.93 668.88,324.97 669.70,325.40 670.52,325.42 671.34,326.52 672.16,325.74 672.98,326.62 673.80,325.54 674.62,326.58 675.44,326.22 676.26,327.46 677.08,327.22 677.90,327.64 678.72,326.47 679.54,328.02 680.36,327.78 681.18,328.90 681.83,328.56 682.04,327.00 682.37,331.96 682.82,322.50 683.19,332.13 683.47,320.67 683.72,317.50 683.92,320.04 684.21,332.32 684.58,314.57 684.91,310.50 685.15,314.18 685.52,332.41 685.93,305.51 686.38,296.50 686.75,304.09 687.16,332.73 687.78,288.53 688.02,280.24 688.27,277.50 688.55,280.25 688.80,288.53 689.42,333.30 690.15,278.62 690.48,268.76 690.93,264.50 691.38,268.80 691.71,279.18 692.49,333.30 693.43,269.46 693.96,257.47 694.33,254.33 694.70,253.51 695.03,255.01 695.36,258.54 695.85,270.45 696.87,333.27 698.10,263.83 698.80,252.26 699.29,249.15 699.58,248.30 699.87,248.00 700.28,249.61 700.56,255.57 700.85,251.80 700.93,251.61 701.01,251.72 701.26,253.01 702.08,264.64 702.61,283.61 703.51,335.25 703.76,328.43 704.50,281.88 705.07,264.27 705.52,257.77 706.10,253.60 706.87,251.22 707.37,250.65 707.94,250.50 708.72,250.93 709.50,251.91 710.81,255.10 711.71,259.60 712.37,265.98 713.19,284.52 714.29,336.12 714.58,329.71 715.40,287.65 716.10,271.30 716.63,265.86 717.33,262.49 717.78,261.41 718.27,260.77 718.84,260.46 719.66,260.41 721.26,261.03 723.35,262.54 725.89,264.97 727.90,267.46 729.13,268.38 730.20,270.10 731.02,272.85 731.84,279.66 732.45,289.74 733.60,332.95 733.88,338.48 734.13,334.40 735.24,293.85 735.81,284.91 736.55,279.83 737.08,278.19 737.70,277.30 738.39,277.00 739.54,277.18 740.73,277.66 742.29,278.64 747.00,282.45" fill="none" stroke="#666" stroke-width="0.85" stroke-dasharray="1.1 1.3"/>
</svg></body></html>
